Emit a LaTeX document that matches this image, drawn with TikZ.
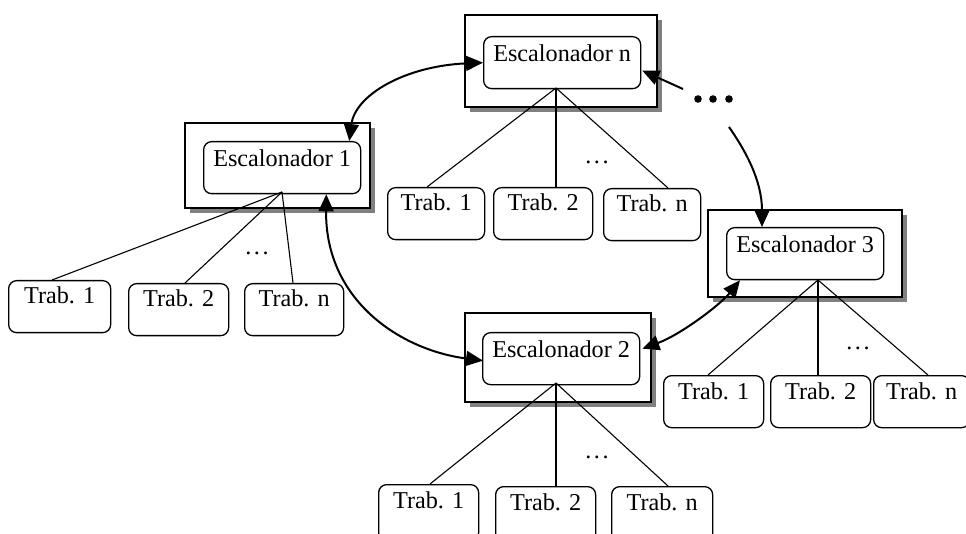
\documentclass[tikz,border=0pt]{standalone}
\usepackage{fontspec}
\setmainfont{Liberation Serif}
\usetikzlibrary{arrows.meta,calc}
\begin{document}
\begin{tikzpicture}[x=1pt,y=-1pt,
  frame/.style={draw=black, line width=1.6pt, fill=white},
  shade/.style={fill=black!50, draw=none},
  sched/.style={draw=black, line width=1.3pt, rounded corners=8pt, fill=white,
    inner sep=0pt, anchor=north west, minimum width=157pt, minimum height=52pt},
  job/.style={draw=black, line width=1.3pt, rounded corners=8pt, fill=white,
    inner sep=0pt, anchor=north west, minimum width=100pt, minimum height=52pt},
  lbl/.style={anchor=base, inner sep=0pt, font=\fontsize{24.2}{28}\selectfont},
  gap/.style={anchor=base, inner sep=0pt, font=\fontsize{24.2}{28}\selectfont},
  link/.style={draw=black, line width=1.1pt},
  flow/.style={draw=black, line width=2pt, -{Triangle[length=17pt,width=15pt]}},
  flowboth/.style={draw=black, line width=2pt,
    {Triangle[length=17pt,width=15pt]}-{Triangle[length=17pt,width=15pt]}},
]
\clip (0,0) rectangle (966,534);
\fill[white] (0,0) rectangle (966,534);

% ---- scheduler frames with drop shadows ----
\fill[shade] (190,128) rectangle (375,213);
\draw[frame] (185,123) rectangle (370,208);
\fill[shade] (470,20) rectangle (662,112);
\draw[frame] (465,15) rectangle (657,107);
\fill[shade] (713,215) rectangle (907,302);
\draw[frame] (708,210) rectangle (902,297);
\fill[shade] (470,318) rectangle (656,407);
\draw[frame] (465,313) rectangle (651,402);

% ---- schedulers ----
\node[sched] (e1) at (203,141) {};
\node[sched] (en) at (483,36) {};
\node[sched] (e3) at (726,227) {};
\node[sched] (e2) at (482,332) {};
\node[lbl] (le1) at ($(e1.north)+(0,26)$) {Escalonador 1};
\node[lbl] (len) at ($(en.north)+(0,26)$) {Escalonador n};
\node[lbl] (le3) at ($(e3.north)+(0,26)$) {Escalonador 3};
\node[lbl] (le2) at ($(e2.north)+(0,26)$) {Escalonador 2};

% ---- jobs of scheduler 1 ----
\node[job, minimum width=102pt] (a1) at (8,280) {};
\node[job] (a2) at (128,283) {};
\node[job, minimum width=99pt] (a3) at (244,283) {};
% ---- jobs of scheduler n ----
\node[job, minimum width=97pt] (b1) at (387,187) {};
\node[job, minimum width=99pt] (b2) at (493,187) {};
\node[job, minimum width=97pt] (b3) at (603,188) {};
% ---- jobs of scheduler 3 ----
\node[job, minimum width=100pt] (c1) at (663,375) {};
\node[job, minimum width=100pt] (c2) at (770,375) {};
\node[job, minimum width=96pt] (c3) at (873,375) {};
% ---- jobs of scheduler 2 ----
\node[job, minimum width=100pt, minimum height=56pt] (d1) at (378,484) {};
\node[job, minimum width=100pt, minimum height=56pt] (d2) at (495,486) {};
\node[job, minimum width=101pt, minimum height=56pt] (d3) at (611,486) {};

\foreach \j/\t in {a1/Trab. 1, a2/Trab. 2, a3/Trab. n,
                  b1/Trab. 1, b2/Trab. 2, b3/Trab. n,
                  c1/Trab. 1, c2/Trab. 2, c3/Trab. n,
                  d1/Trab. 1, d2/Trab. 2, d3/Trab. n}
  \node[lbl] (t\j) at ($(\j.north)+(0,24)$) {\t};

% ---- tree links ----
\coordinate (r1) at (282,192);
\draw[link] (r1) -- (a1.north -| 52,0);
\draw[link] (r1) -- (a2.north -| 185,0);
\draw[link] (r1) -- (a3.north -| 293,0);
\coordinate (rn) at (556,88);
\draw[link] (rn) -- (b1.north -| 427,0);
\draw[link] (rn) -- (b2.north -| 556,0);
\draw[link] (rn) -- (b3.north -| 668,0);
\coordinate (r3) at (818,280);
\draw[link] (r3) -- (c1.north -| 708,0);
\draw[link] (r3) -- (c2.north -| 818,0);
\draw[link] (r3) -- (c3.north -| 928,0);
\coordinate (r2) at (556,383);
\draw[link] (r2) -- (d1.north -| 430,0);
\draw[link] (r2) -- (d2.north -| 556,0);
\draw[link] (r2) -- (d3.north -| 668,0);

% ---- ellipses between jobs ----
\node[gap] (g1) at (257,255) {.\kern2.5pt.\kern2.5pt.};
\node[gap] (gn) at (597,164) {.\kern2.5pt.\kern2.5pt.};
\node[gap] (g3) at (858,349) {.\kern2.5pt.\kern2.5pt.};
\node[gap] (g2) at (597,458) {.\kern2.5pt.\kern2.5pt.};

% ---- further schedulers ----
\node[inner sep=0pt, minimum width=40pt, minimum height=10pt] (more) at (713,99) {};
\fill (698,99) circle (3.8) (713,99) circle (3.8) (729,99) circle (3.8);
\coordinate (m2) at (683,89);
\coordinate (m3) at (729,127);

% ---- scheduler communication ----
\draw[flowboth] ($(e1.north east)+(-12,0)$) .. controls (355,95) and (405,66) .. (en.west);
\draw[flowboth] ($(e1.south east)+(-35,0)$) .. controls (325,300) and (400,350) .. ($(e2.west)+(1,2)$);
\draw[flowboth] ($(e3.south west)+(14,0)$) .. controls (720,305) and (680,335) .. ($(e2.east)+(2,-10)$);
\draw[flow] (m2) -- ($(en.east)+(1,8)$);
\draw[flow] (m3) .. controls (745,150) and (762,180) .. ($(e3.north west)+(36,0)$);
\end{tikzpicture}
\end{document}
